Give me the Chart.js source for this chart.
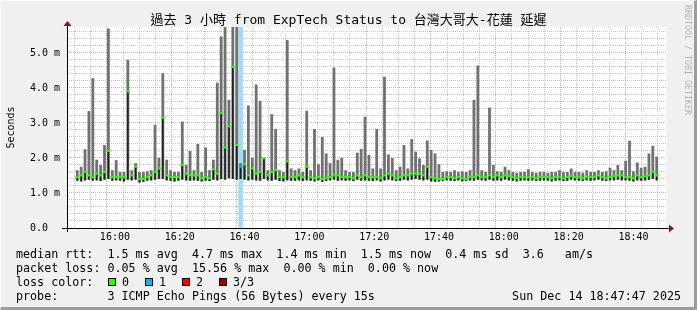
<!DOCTYPE html>
<html>
<head>
<meta charset="utf-8">
<script src="https://cdn.jsdelivr.net/npm/chart.js@4.4.1/dist/chart.umd.min.js"></script>
<style>
  body { margin: 0; background: #f0f0f0; }
  #wrap { position: relative; width: 697px; height: 310px; overflow: hidden; background: #f0f0f0;
          font-family: 'DejaVu Sans Mono', 'Noto Sans CJK TC', monospace; color: #000; }
  #c { position: absolute; left: 0; top: 0; }
  #frame { position: absolute; left: 0; top: 0; width: 697px; height: 310px; box-sizing: border-box;
           border-top: 1px solid #fcfcfc; border-left: 1px solid #fcfcfc;
           border-right: 3px solid #9c9c9c; border-bottom: 3px solid #9c9c9c; pointer-events: none; }
  #title { position: absolute; left: 0; top: 12px; width: 697px; text-align: center; font-size: 13px; line-height: 16px; white-space: pre; }
  #mark { position: absolute; left: 683px; top: 5px; writing-mode: vertical-rl; font-size: 8.3px; line-height: 10px;
          color: #b4b4b4; white-space: pre; }
  #legend { position: absolute; left: 16px; top: 247px; margin: 0; font-family: inherit; font-size: 11.7px; line-height: 14px; white-space: pre; }
  #stamp { position: absolute; right: 16px; top: 289px; font-size: 11.7px; line-height: 14px; white-space: pre; }
  .box { position: absolute; top: 278px; width: 6px; height: 6px; border: 1px solid #000; }
  .lbl { position: absolute; top: 275px; font-size: 11.7px; line-height: 14px; white-space: pre; }
</style>
</head>
<body>
<div id="wrap">
  <canvas id="c" width="697" height="310"></canvas>
  <div id="title">過去 3 小時 from ExpTech Status to 台灣大哥大-花蓮 延遲</div>
  <div id="mark">RRDTOOL / TOBI OETIKER</div>
  <pre id="legend">median rtt:  1.5 ms avg  4.7 ms max  1.4 ms min  1.5 ms now  0.4 ms sd  3.6   am/s
packet loss: 0.05 % avg  15.56 % max  0.00 % min  0.00 % now
loss color:
probe:       3 ICMP Echo Pings (56 Bytes) every 15s</pre>
  <div id="stamp">Sun Dec 14 18:47:47 2025</div>
  <div id="frame"></div>
</div>
<script>
// time window: 3 hours ending at 18:47:47, one sample every 1.2 min
var START = "15:47:47";
var STEP_MIN = 1.2;
var X_SPAN = 180;
var Y_MAX = 5.74;

var xTickLabels = ["16:00", "16:20", "16:40", "17:00", "17:20", "17:40", "18:00", "18:20", "18:40"];
var yTickValues = [0, 1, 2, 3, 4, 5];
var yTickLabels = ["0.0  ", "1.0 m", "2.0 m", "3.0 m", "4.0 m", "5.0 m"];

// smoke top (ms)
var maxMs = [
  1.65, 1.75, 2.25, 3.34, 4.28, 1.95, 1.80, 2.37, 5.70, 1.65,
  1.94, 1.60, 1.60, 4.80, 1.65, 1.85, 1.60, 1.60, 1.62, 1.65,
  2.95, 2.00, 4.42, 1.95, 1.65, 1.60, 1.60, 3.04, 1.80, 2.20,
  1.65, 2.40, 1.60, 2.30, 1.65, 1.95, 4.15, 5.47, 5.80, 3.66,
  5.80, 5.80, 1.85, 2.23, 3.50, 2.00, 4.10, 3.63, 2.00, 1.65,
  3.25, 2.83, 1.65, 1.60, 5.37, 1.70, 1.65, 1.70, 1.60, 3.35,
  1.65, 2.83, 1.82, 2.60, 2.13, 1.85, 4.58, 1.95, 2.00, 1.65,
  1.60, 1.60, 2.15, 2.26, 3.18, 2.09, 1.70, 2.83, 1.70, 4.32,
  2.10, 2.00, 1.65, 1.75, 2.37, 1.70, 2.54, 2.18, 1.99, 1.80,
  2.50, 2.23, 2.13, 1.82, 1.60, 1.62, 1.60, 1.65, 1.60, 1.62,
  1.60, 1.65, 3.66, 4.64, 1.65, 1.60, 3.44, 1.80, 1.62, 1.60,
  1.75, 1.65, 1.60, 1.58, 1.60, 1.60, 1.68, 1.60, 1.58, 1.60,
  1.60, 1.58, 1.60, 1.60, 1.65, 1.60, 1.60, 1.70, 1.60, 1.60,
  1.58, 1.65, 1.60, 1.60, 1.65, 1.60, 1.62, 1.72, 1.65, 1.80,
  1.65, 1.92, 2.49, 1.62, 1.87, 1.72, 1.75, 2.13, 2.35, 2.04
];

// smoke bottom (ms)
var minMs = [
  1.35, 1.33, 1.36, 1.38, 1.35, 1.36, 1.34, 1.38, 1.40, 1.35,
  1.36, 1.35, 1.33, 1.38, 1.36, 1.38, 1.30, 1.32, 1.35, 1.36,
  1.38, 1.40, 1.40, 1.36, 1.35, 1.33, 1.35, 1.38, 1.36, 1.35,
  1.36, 1.35, 1.33, 1.35, 1.34, 1.38, 1.36, 1.40, 1.38, 1.42,
  1.40, 1.38, 1.40, 1.38, 1.36, 1.38, 1.36, 1.35, 1.40, 1.36,
  1.35, 1.38, 1.34, 1.33, 1.36, 1.35, 1.35, 1.36, 1.34, 1.36,
  1.35, 1.33, 1.36, 1.32, 1.34, 1.36, 1.38, 1.35, 1.36, 1.35,
  1.36, 1.34, 1.38, 1.35, 1.36, 1.35, 1.34, 1.36, 1.33, 1.36,
  1.38, 1.36, 1.34, 1.35, 1.38, 1.36, 1.38, 1.40, 1.38, 1.36,
  1.38, 1.33, 1.32, 1.33, 1.34, 1.36, 1.35, 1.34, 1.36, 1.33,
  1.34, 1.36, 1.35, 1.38, 1.36, 1.35, 1.38, 1.35, 1.36, 1.35,
  1.38, 1.36, 1.35, 1.33, 1.35, 1.36, 1.35, 1.36, 1.34, 1.35,
  1.36, 1.35, 1.33, 1.35, 1.36, 1.34, 1.35, 1.38, 1.36, 1.35,
  1.34, 1.36, 1.35, 1.36, 1.38, 1.35, 1.34, 1.36, 1.36, 1.38,
  1.36, 1.36, 1.35, 1.33, 1.36, 1.35, 1.36, 1.38, 1.40, 1.36
];

// median rtt (ms)
var medMs = [
  1.45, 1.50, 1.60, 1.50, 1.45, 1.55, 1.50, 1.60, 2.20, 1.45,
  1.45, 1.45, 1.45, 3.90, 1.50, 1.75, 1.40, 1.40, 1.45, 1.50,
  1.60, 1.70, 3.15, 1.50, 1.45, 1.45, 1.45, 1.80, 1.55, 1.50,
  1.50, 1.50, 1.42, 1.45, 1.42, 1.68, 1.55, 3.28, 2.30, 2.90,
  4.60, 2.37, 1.75, 1.82, 1.50, 1.70, 1.55, 1.60, 1.99, 1.50,
  1.60, 1.65, 1.45, 1.45, 1.90, 1.45, 1.45, 1.50, 1.45, 1.75,
  1.45, 1.42, 1.45, 1.40, 1.42, 1.45, 1.50, 1.50, 1.45, 1.45,
  1.45, 1.42, 1.50, 1.45, 1.50, 1.45, 1.45, 1.45, 1.42, 1.50,
  1.55, 1.50, 1.42, 1.45, 1.50, 1.50, 1.55, 1.55, 1.55, 1.50,
  1.75, 1.45, 1.42, 1.40, 1.40, 1.45, 1.45, 1.42, 1.45, 1.42,
  1.40, 1.45, 1.45, 1.50, 1.45, 1.45, 1.50, 1.45, 1.50, 1.45,
  1.50, 1.48, 1.45, 1.42, 1.45, 1.45, 1.45, 1.45, 1.42, 1.45,
  1.45, 1.45, 1.42, 1.45, 1.45, 1.42, 1.45, 1.48, 1.45, 1.45,
  1.42, 1.45, 1.45, 1.45, 1.50, 1.45, 1.42, 1.45, 1.48, 1.50,
  1.50, 1.45, 1.45, 1.42, 1.50, 1.45, 1.48, 1.50, 1.60, 1.50
];

// samples that lost pings
var lossSample = [42];
var lossPings = [1];
var lossColors = ["#26ff00", "#00b8ff", "#ff0000", "#a10000"];
var lossNames = ["0", "1", "2", "3/3"];

function toMin(s) {
  var p = s.split(":").map(Number);
  return p[0] * 60 + p[1] + (p[2] || 0) / 60;
}
var t0 = toMin(START);
var xLabelPos = xTickLabels.map(function (l) { return toMin(l) - t0; });
var xGrid = [];
for (var m = Math.ceil(t0 / 5) * 5; m - t0 <= X_SPAN; m += 5) xGrid.push(m - t0);
var yGrid = [];
for (var k = 0; k * 0.2 <= Y_MAX; k++) yGrid.push(k * 2 / 10);

function lossOf(i) {
  var j = lossSample.indexOf(i);
  return j < 0 ? 0 : lossPings[j];
}

var times = maxMs.map(function (_, i) { return (i + 0.5) * STEP_MIN; });
var smoke = times.map(function (t, i) { return { x: t, y: [minMs[i], maxMs[i]] }; });
var core = times.map(function (t, i) { return { x: t, y: [minMs[i], medMs[i]] }; });
var median = times.map(function (t, i) { return { x: t, y: medMs[i] }; });
var lossBand = lossSample.map(function (i) { return { x: times[i], y: [0, Y_MAX] }; });

// loss colour legend boxes
lossColors.forEach(function (c, i) {
  var wrap = document.getElementById("wrap");
  var b = document.createElement("div");
  b.className = "box";
  b.style.left = (108 + i * 37) + "px";
  b.style.background = c;
  wrap.appendChild(b);
  var l = document.createElement("div");
  l.className = "lbl";
  l.style.left = (122 + i * 37) + "px";
  l.textContent = lossNames[i];
  wrap.appendChild(l);
});

var plotFrame = {
  id: "plotFrame",
  beforeDraw: function (chart) {
    var ctx = chart.ctx, a = chart.chartArea;
    ctx.save();
    ctx.fillStyle = "#ffffff";
    ctx.fillRect(a.left, a.top, a.right - a.left, a.bottom - a.top);
    ctx.restore();
  },
  afterDraw: function (chart) {
    var ctx = chart.ctx, a = chart.chartArea;
    ctx.save();
    ctx.strokeStyle = "#000";
    ctx.lineWidth = 1;
    ctx.beginPath();
    ctx.moveTo(a.left - 5, a.bottom + 0.5);
    ctx.lineTo(a.right + 3, a.bottom + 0.5);
    ctx.moveTo(a.left + 0.5, a.bottom + 4);
    ctx.lineTo(a.left + 0.5, a.top - 3);
    ctx.stroke();
    ctx.fillStyle = "#8e1414";
    ctx.beginPath();
    ctx.moveTo(a.right + 2, a.bottom - 3.5);
    ctx.lineTo(a.right + 7, a.bottom + 0.5);
    ctx.lineTo(a.right + 2, a.bottom + 4.5);
    ctx.fill();
    ctx.beginPath();
    ctx.moveTo(a.left - 3.5, a.top - 1);
    ctx.lineTo(a.left + 0.5, a.top - 6);
    ctx.lineTo(a.left + 4.5, a.top - 1);
    ctx.fill();
    ctx.restore();
  }
};

var mono = "'DejaVu Sans Mono', monospace";

new Chart(document.getElementById("c"), {
  type: "bar",
  data: {
    datasets: [
      {
        type: "line",
        data: median,
        showLine: false,
        pointStyle: "line",
        pointRadius: 2,
        pointHoverRadius: 2,
        pointBorderWidth: 2,
        pointBorderColor: function (ctx) { return lossColors[lossOf(ctx.dataIndex)]; },
        order: 0
      },
      {
        data: core,
        backgroundColor: "#1e1e1e",
        barPercentage: 0.4,
        categoryPercentage: 1,
        order: 1
      },
      {
        data: smoke,
        backgroundColor: "#717171",
        barPercentage: 0.72,
        categoryPercentage: 1,
        order: 2
      },
      {
        data: lossBand,
        backgroundColor: "#a3daf4",
        barPercentage: 1,
        categoryPercentage: 1,
        order: 3
      }
    ]
  },
  options: {
    responsive: false,
    animation: false,
    events: [],
    datasets: { bar: { grouped: false } },
    layout: { padding: { top: 27, right: 30, left: 0, bottom: 0 } },
    plugins: { legend: { display: false }, tooltip: { enabled: false } },
    scales: {
      x: {
        type: "linear",
        min: 0,
        max: X_SPAN,
        afterBuildTicks: function (s) { s.ticks = xGrid.map(function (v) { return { value: v }; }); },
        afterFit: function (s) { s.height = 82; },
        ticks: {
          autoSkip: false,
          maxRotation: 0,
          padding: 3,
          color: "#000",
          font: { family: mono, size: 10 },
          callback: function (v) {
            for (var i = 0; i < xLabelPos.length; i++) {
              if (Math.abs(xLabelPos[i] - v) < 0.01) return xTickLabels[i];
            }
            return "";
          }
        },
        grid: {
          drawTicks: false,
          color: function (ctx) {
            var v = ctx.tick ? ctx.tick.value : 0;
            for (var i = 0; i < xLabelPos.length; i++) {
              if (Math.abs(xLabelPos[i] - v) < 0.01) return "#e8a0a0";
            }
            return "#c4c4c4";
          }
        },
        border: { display: false, dash: [1, 1] }
      },
      y: {
        min: 0,
        max: Y_MAX,
        afterBuildTicks: function (s) { s.ticks = yGrid.map(function (v) { return { value: v }; }); },
        afterFit: function (s) { s.width = 67; },
        ticks: {
          autoSkip: false,
          padding: 7,
          color: "#000",
          font: { family: mono, size: 10 },
          callback: function (v) {
            var i = yTickValues.indexOf(Math.round(v * 10) / 10);
            return i < 0 ? "" : yTickLabels[i];
          }
        },
        grid: {
          drawTicks: false,
          color: function (ctx) {
            var v = ctx.tick ? Math.round(ctx.tick.value * 10) / 10 : 0;
            return yTickValues.indexOf(v) < 0 ? "#c4c4c4" : "#e8a0a0";
          }
        },
        border: { display: false, dash: [1, 1] },
        title: {
          display: true,
          text: "Seconds",
          color: "#000",
          font: { family: mono, size: 10 },
          padding: { top: 5, bottom: 0 }
        }
      }
    }
  },
  plugins: [plotFrame]
});
</script>
</body>
</html>
